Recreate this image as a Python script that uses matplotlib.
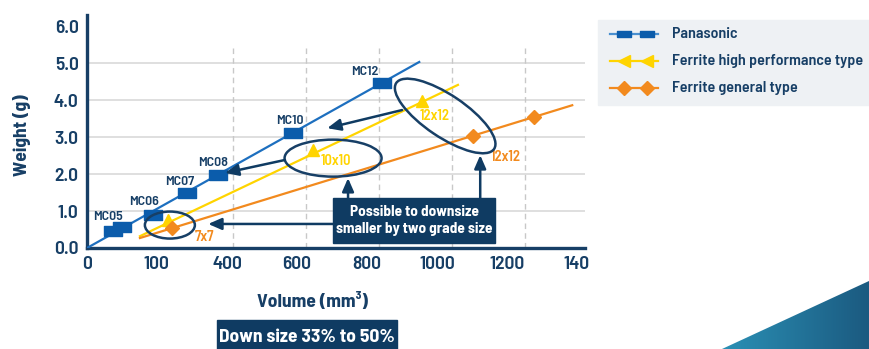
import numpy as np
import matplotlib
matplotlib.use("Agg")
from matplotlib import pyplot as plt
from matplotlib.patches import Ellipse, Rectangle, Polygon
from matplotlib.colors import LinearSegmentedColormap
from matplotlib.transforms import ScaledTranslation

plt.rcParams['font.family'] = ['Barlow Semi Condensed', 'Roboto Condensed', 'DejaVu Sans']

# data
pana_names = ["MC05", "", "MC06", "MC07", "MC08", "MC10", "MC12"]
pana_vol = [71, 96, 181, 274, 359, 564, 808]
pana_wt = [0.46, 0.57, 0.89, 1.49, 1.97, 3.11, 4.46]
pana_fit_vol = [0, 910]
pana_fit_wt = [0.0, 5.03]

fhp_names = ["7x7", "10x10", "12x12"]
fhp_vol = [222, 619, 918]
fhp_wt = [0.76, 2.65, 3.97]
fhp_fit_vol = [145, 1016]
fhp_fit_wt = [0.32, 4.41]

fgen_names = ["7x7", "12x12", ""]
fgen_vol = [233, 1058, 1225]
fgen_wt = [0.54, 3.03, 3.54]
fgen_fit_vol = [145, 1329]
fgen_fit_wt = [0.27, 3.86]

xtick_pos = [0, 190, 385, 575, 765, 960, 1150, 1340]
xtick_labels = ["0", "100", "400", "600", "800", "1000", "1200", "140"]
xgrid = [400, 600, 800, 1000, 1200]
yticks = [0, 1, 2, 3, 4, 5, 6]

navy = "#173f66"
dark = "#0f3b62"
blue = "#0b5cab"
blue_line = "#1d6fbf"
yellow = "#ffd400"
orange = "#f28a1e"

fig = plt.figure(figsize=(8.69, 3.49), dpi=100)
ax = fig.add_axes([87/869, 1-248/349, 498/869, 233/349])
ax.set_xlim(0, 1364)
ax.set_ylim(0, 6.3)

for y in yticks[1:6]:
    ax.axhline(y, color="#d9d9d9", lw=1.2, zorder=0)
for x in xgrid:
    ax.axvline(x, ymax=5.45/6.3, color="#c8c8c8", lw=1.0, ls=(0, (4, 3)), zorder=0)

rect_marker = [(-1, -0.5), (1, -0.5), (1, 0.5), (-1, 0.5), (-1, -0.5)]

ax.plot(pana_fit_vol, pana_fit_wt, color=blue_line, lw=1.6, zorder=3)
ax.plot(fhp_fit_vol, fhp_fit_wt, color=yellow, lw=1.6, zorder=3)
ax.plot(fgen_fit_vol, fgen_fit_wt, color=orange, lw=1.6, zorder=3)
ax.plot(pana_vol, pana_wt, ls="none", marker=rect_marker, ms=13, color=blue, zorder=4)
ax.plot(fhp_vol, fhp_wt, ls="none", marker="^", ms=9, color=yellow, zorder=4)
ax.plot(fgen_vol, fgen_wt, ls="none", marker="D", ms=7, color=orange, zorder=4)

# point labels
pana_lab_off = [(-13, 0.38), (0, 0), (-25, 0.35), (-19, 0.29), (-14, 0.33), (-8, 0.32), (-46, 0.30)]
for n, x, y, (dx, dy) in zip(pana_names, pana_vol, pana_wt, pana_lab_off):
    if n:
        ax.text(x + dx, y + dy, n, ha="center", va="center", color=navy,
                fontsize=10, fontweight="semibold", zorder=5)
ax.text(682, 2.35, "10x10", ha="center", va="center", color=yellow, fontsize=10.5, fontweight="semibold", zorder=5)
ax.text(951, 3.57, "12x12", ha="center", va="center", color=yellow, fontsize=10.5, fontweight="semibold", zorder=5)
ax.text(323, 0.30, "7x7", ha="center", va="center", color=orange, fontsize=10.5, fontweight="semibold", zorder=5)
ax.text(1148, 2.46, "12x12", ha="center", va="center", color=orange, fontsize=10.5, fontweight="semibold", zorder=5)

# ellipses (sizes in pixels)
def ring(cx, cy, w, h, ang):
    tr = fig.dpi_scale_trans + ScaledTranslation(cx, cy, ax.transData)
    e = Ellipse((0, 0), w/100, h/100, angle=ang, transform=tr, fill=False,
                ec=navy, lw=1.8, zorder=6, clip_on=False)
    ax.add_artist(e)

ring(227, 0.62, 50, 27, 0)
ring(674, 2.43, 97, 37, 0)
ring(981, 3.57, 118, 42, -34)

arrow = dict(arrowstyle="-|>,head_length=0.8,head_width=0.35", color=dark, lw=1.8, shrinkA=0, shrinkB=0)
ax.annotate("", xy=(658, 3.24), xytext=(863, 3.73), arrowprops=arrow, zorder=6)
ax.annotate("", xy=(378, 2.03), xytext=(542, 2.38), arrowprops=arrow, zorder=6)
ax.annotate("", xy=(332, 0.65), xytext=(679, 0.65), arrowprops=arrow, zorder=6)
ax.annotate("", xy=(715, 1.89), xytext=(715, 1.35), arrowprops=arrow, zorder=6)
ax.annotate("", xy=(1077, 2.51), xytext=(1077, 1.35), arrowprops=arrow, zorder=6)

ax.add_patch(Rectangle((674, 0.135), 444, 1.215, color=dark, zorder=7))
ax.text(896, 0.74, "Possible to downsize\nsmaller by two grade size", ha="center", va="center",
        color="white", fontsize=11, fontweight="bold", linespacing=1.3, zorder=8)

for s in ["top", "right"]:
    ax.spines[s].set_visible(False)
for s in ["left", "bottom"]:
    ax.spines[s].set_color(navy)
    ax.spines[s].set_linewidth(2.4)
ax.set_xticks(xtick_pos)
ax.set_xticklabels(xtick_labels)
ax.set_yticks(yticks)
ax.set_yticklabels(["%.1f" % v for v in yticks])
ax.tick_params(length=0, labelsize=14, labelcolor=navy, pad=6)
for t in ax.get_xticklabels() + ax.get_yticklabels():
    t.set_fontweight("semibold")

# overlay in pixel coords
ov = fig.add_axes([0, 0, 1, 1], zorder=-1)
ov.axis("off")

ov.text(22, 135, "Weight (g)", rotation=90, ha="center", va="center", color=navy,
        fontsize=14, fontweight="bold")
ov.text(312, 302, "Volume (mm\u00b3)", ha="center", va="center", color=navy,
        fontsize=14, fontweight="bold")
ov.add_patch(Rectangle((217, 320), 180, 40, color=dark))
ov.text(307, 337, "Down size 33% to 50%", ha="center", va="center", color="white",
        fontsize=14, fontweight="bold")

# legend
ov.add_patch(Rectangle((598, 20), 271, 85, color="#eef1f4"))
leg_items = [("Panasonic", "#4a90d0", blue, rect_marker, 10),
             ("Ferrite high performance type", yellow, yellow, "<", 8),
             ("Ferrite general type", orange, orange, "D", 7)]
for i, (lab, lc, mc, mk, ms) in enumerate(leg_items):
    y = 34 + i * 27
    ov.plot([610, 658], [y, y], color=lc, lw=1.6)
    ov.plot([624, 647], [y, y], ls="none", marker=mk, ms=ms, color=mc)
    ov.text(672, y, lab, ha="left", va="center", color=navy, fontsize=11.5, fontweight="semibold")

# teal corner
grad = np.linspace(0, 1, 256).reshape(1, -1)
cm = LinearSegmentedColormap.from_list("tl", ["#2b90b5", "#1b5a80"])
im = ov.imshow(grad, extent=(722, 869, 349, 281), cmap=cm, aspect="auto")
tri = Polygon([(722, 349), (869, 281), (869, 349)], closed=True,
              facecolor="none", edgecolor="none")
ov.add_patch(tri)
im.set_clip_path(tri)
ov.set_xlim(0, 869)
ov.set_ylim(349, 0)

fig.savefig("out.png", dpi=100)
